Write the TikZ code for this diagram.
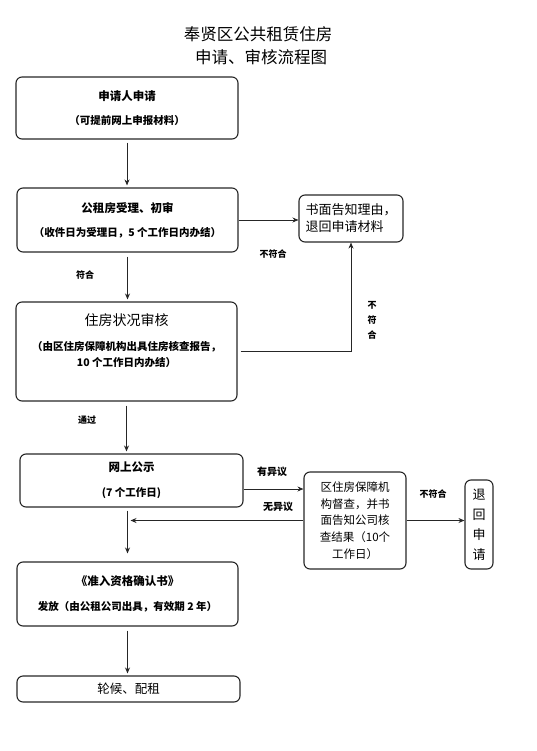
\documentclass[tikz,border=0pt]{standalone}
\usepackage{fontspec}
\newfontfamily\cjk{Noto Sans CJK SC}
\usetikzlibrary{arrows.meta, positioning, calc}
\newcommand\headfont{\bfseries\fontsize{11.5}{13}\selectfont}
\newcommand\notefont{\bfseries\fontsize{10.5}{13}\selectfont}
\tikzset{
	stage/.style    ={rectangle, rounded corners=6pt, draw=black!85, line width=1.1pt, align=center, inner sep=0pt},
	flowarrow/.style={-{Stealth[length=6pt, width=5pt]}, line width=0.9pt, draw=black!85},
	branch/.style   ={font=\cjk\bfseries\fontsize{9}{11}\selectfont, align=center},
}
\begin{document}
\begin{tikzpicture}[x=1pt, y=-1pt, font=\cjk]
	\useasboundingbox (0,0) rectangle (537,751);
	% title
	\node[font=\cjk\fontsize{16.5}{23}\selectfont, align=center] (title) at (258,45.5) {奉贤区公共租赁住房\\\hspace{6pt}申请、审核流程图};
	% main column
	\node[stage, minimum width=222pt, minimum height=62pt] (apply) at (127,108) {{\headfont 申请人申请}\\[12pt]{\notefont （可提前网上申报材料）}};
	\node[stage, minimum width=221pt, minimum height=64pt] (accept) at (127.5,220) {{\headfont 公租房受理、初审}\\[12pt]{\notefont （收件日为受理日，5 个工作日内办结）}};
	\node[stage, minimum width=221pt, minimum height=99pt] (house) at (126.5,351.5) {{\fontsize{14}{16}\selectfont 住房状况审核}\\[13pt]{\notefont （由区住房保障机构出具住房核查报告，}\\[4pt]{\notefont 10 个工作日内办结）}\\[10pt]~};
	\node[stage, minimum width=223pt, minimum height=53pt] (notice) at (131.5,480.5) {{\headfont 网上公示}\\[13pt]{\notefont (7 个工作日)}};
	\node[stage, minimum width=221pt, minimum height=64pt] (cert) at (127.5,594) {{\headfont 《准入资格确认书》}\\[13pt]{\notefont 发放（由公租公司出具，有效期 2 年）}};
	\node[stage, minimum width=223pt, minimum height=26pt, font=\cjk\fontsize{12.5}{14}\selectfont] (wait) at (128.5,689) {轮候、配租};
	% side boxes
	\node[stage, minimum width=104pt, minimum height=47pt, align=left, font=\cjk\fontsize{13}{17}\selectfont] (reject) at (351,218.5) {书面告知理由，\\退回申请材料};
	\node[stage, minimum width=102pt, minimum height=97pt, font=\cjk\fontsize{11.5}{16.8}\selectfont] (check) at (355,520.5) {区住房保障机\\构督查，并书\\面告知公司核\\查结果（10个\\工作日）};
	\node[stage, minimum width=28pt, minimum height=89pt, font=\cjk\fontsize{13}{20}\selectfont] (back) at (479,524.5) {退\\回\\申\\请};
	% connectors
	\draw[flowarrow, shorten <=3pt, shorten >=2pt] (apply.south) -- (apply.south |- accept.north);
	\draw[flowarrow] (accept.east) -- (accept.east -| reject.west);
	\draw[flowarrow, shorten <=4pt, shorten >=2pt] (accept.south) -- (accept.south |- house.north);
	\draw[flowarrow, shorten <=3pt] (house.east) -| (reject.south);
	\draw[flowarrow, shorten <=4pt, shorten >=2pt] (house.south) -- (house.south |- notice.north);
	\coordinate (objection) at ($(notice.east)+(0,8.5)$);
	\draw[flowarrow] (objection) -- (objection -| check.west);
	\draw[flowarrow, shorten >=3pt] (check.west) -- (check.west -| cert.north);
	\draw[flowarrow] (check.east) -- (check.east -| back.west);
	\draw[flowarrow, shorten <=3pt, shorten >=8pt] (notice.south -| cert.north) -- (cert.north);
	\draw[flowarrow, shorten <=4pt, shorten >=2pt] (cert.south) -- (cert.south |- wait.north);
	% branch labels
	\node[branch] (failA) at (273,254) {不符合};
	\node[branch] (passA) at (85,275) {符合};
	\node[branch, font=\cjk\bfseries\fontsize{9}{15}\selectfont] (failB) at (372,320) {不\\符\\合};
	\node[branch] (passB) at (87,420) {通过};
	\node[branch, font=\cjk\bfseries\fontsize{10}{12}\selectfont] (yesObj) at (272,472) {有异议};
	\node[branch, font=\cjk\bfseries\fontsize{10}{12}\selectfont] (noObj) at (278,507) {无异议};
	\node[branch] (failC) at (433,494) {不符合};
\end{tikzpicture}
\end{document}
